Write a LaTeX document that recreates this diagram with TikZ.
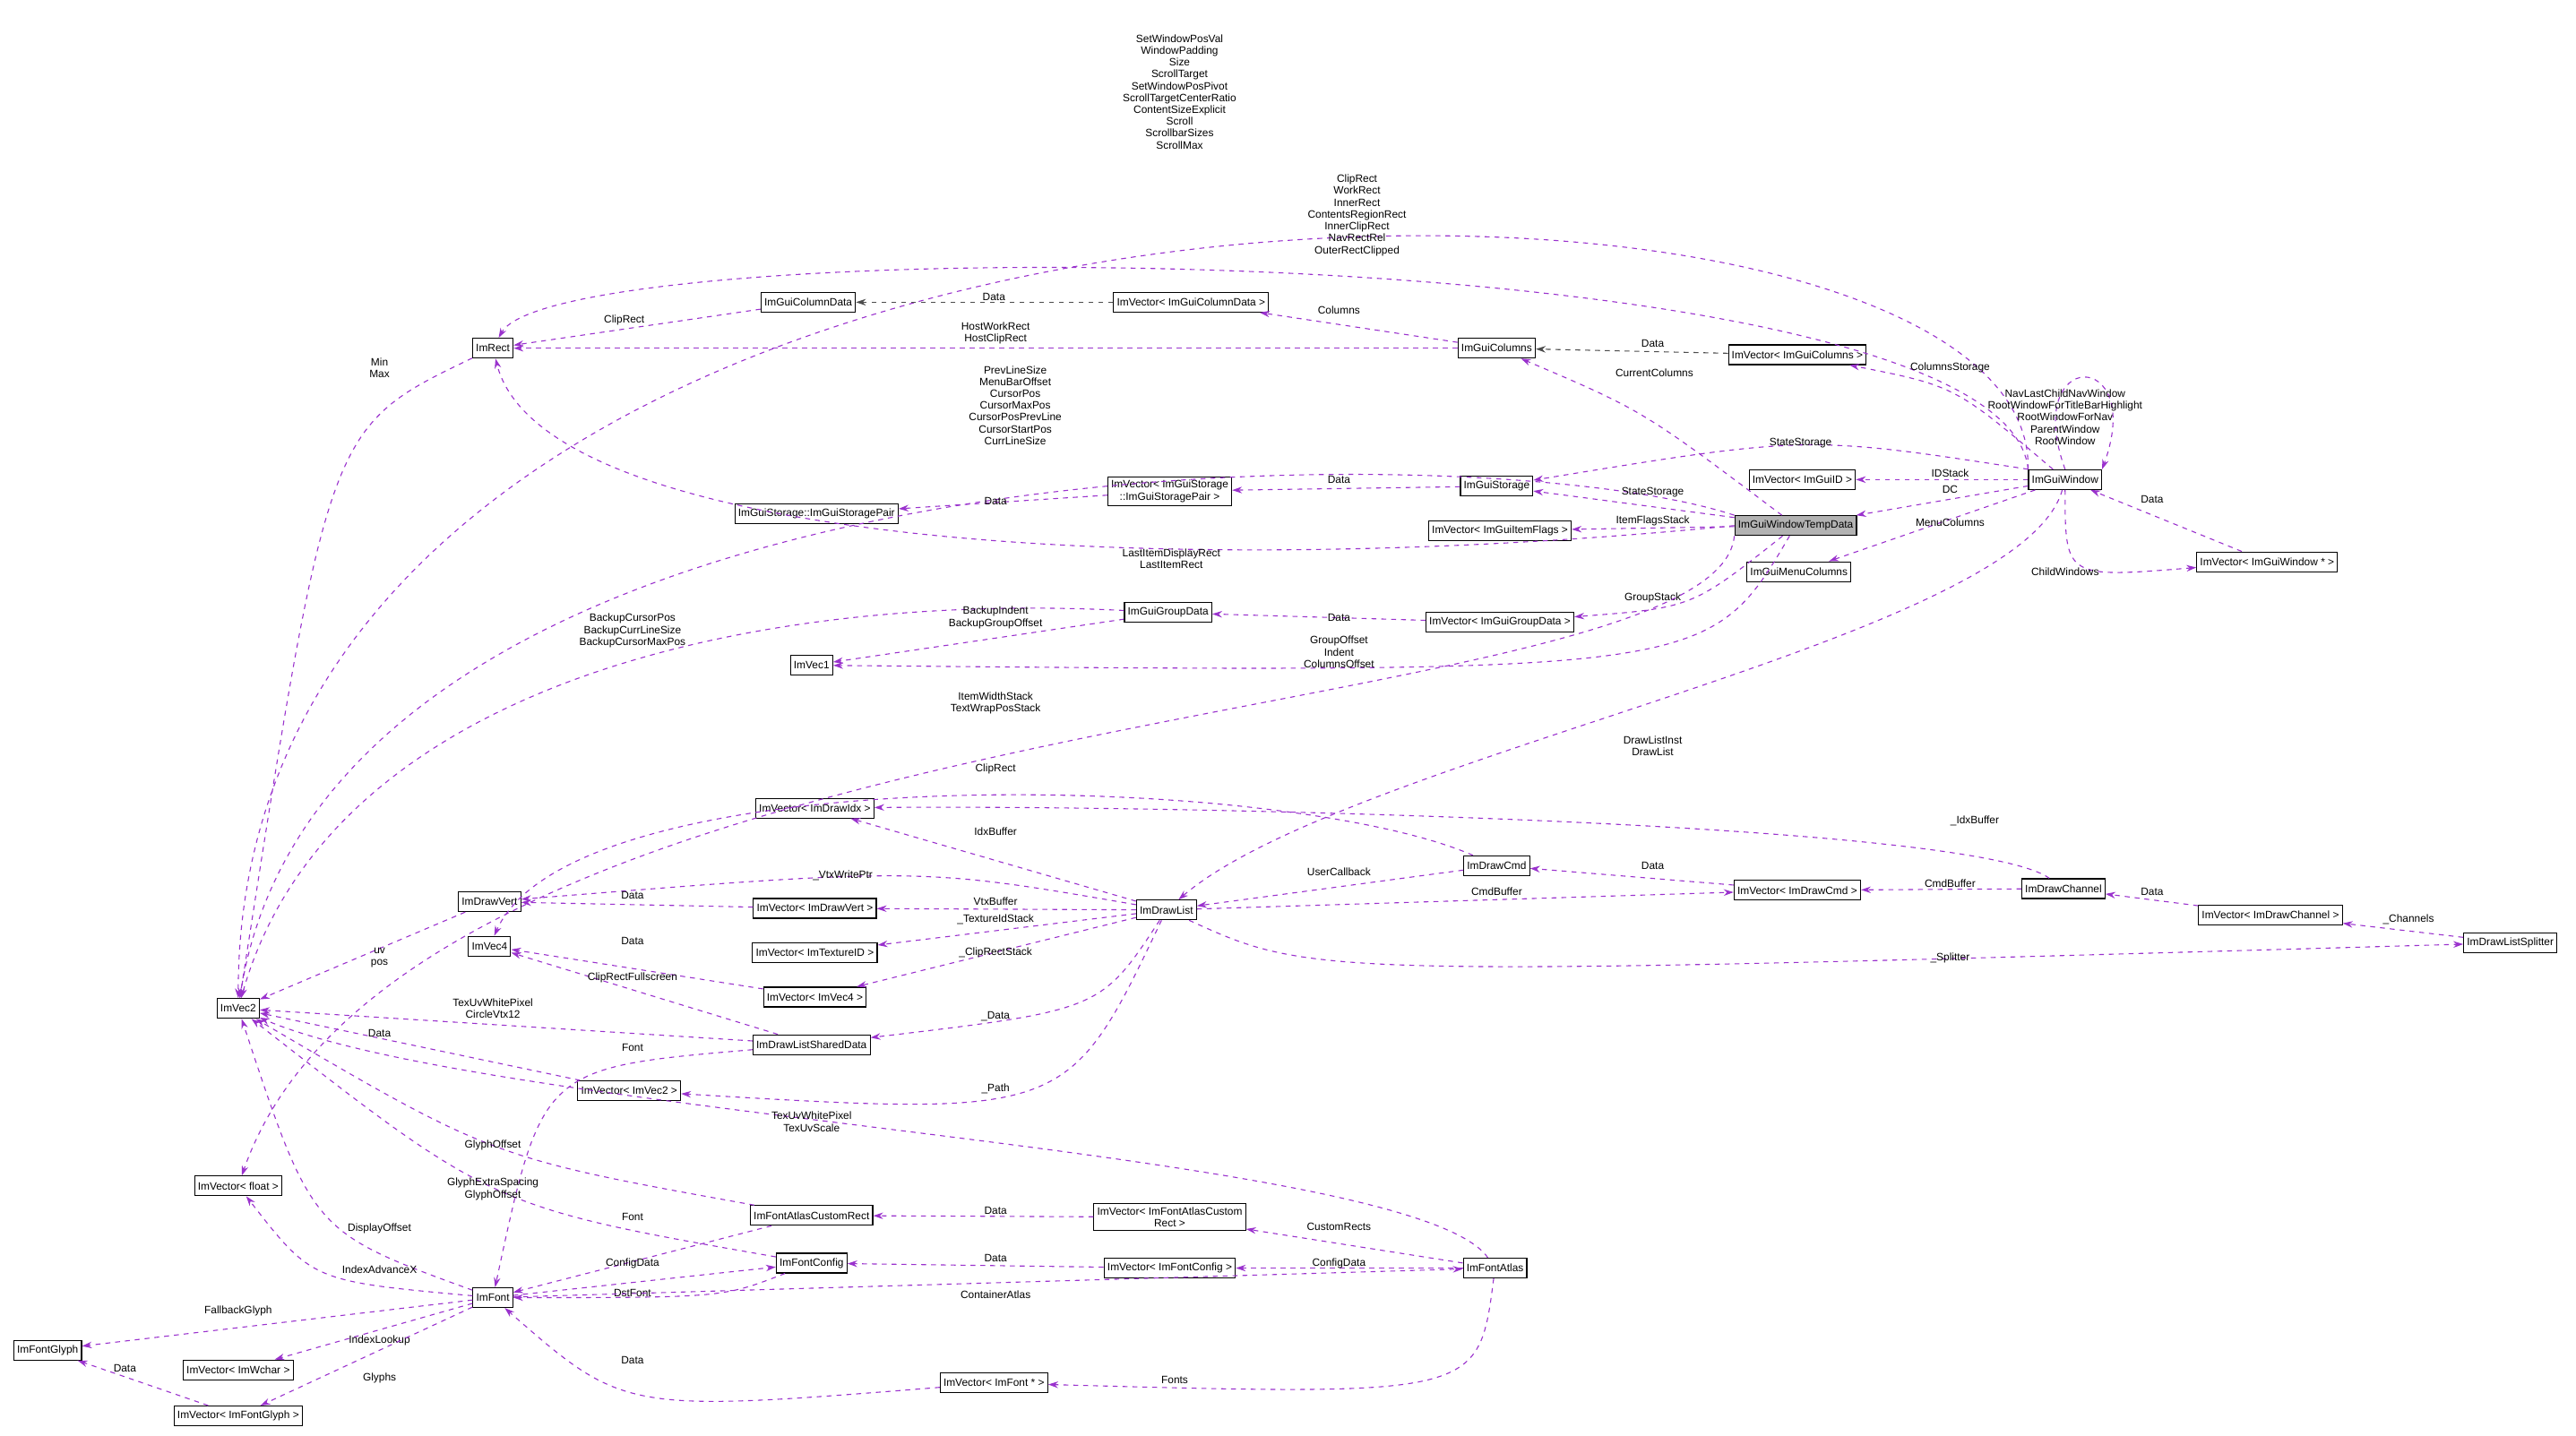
\documentclass[tikz,border=0pt]{standalone}
\usepackage{fontspec}
\setmainfont{Liberation Sans}
\usetikzlibrary{arrows.meta}
\definecolor{relc}{HTML}{9A32CD}
\tikzset{every picture/.style={line width=0.6pt}}
\tikzset{
  cls/.style={draw, fill=white, font=\fontsize{6.5}{7.5}\selectfont, inner sep=2pt, minimum height=12pt, align=center},
  rel/.style={draw=relc, dashed, -{Stealth[length=6pt,width=4pt,fill=relc]}},
  grel/.style={draw=black!70, dashed, -{Stealth[length=6pt,width=4pt,fill=black!70]}},
  lbl/.style={font=\fontsize{6.5}{7.2}\selectfont, inner sep=1pt, align=center}
}

\begin{document}
\begin{tikzpicture}[x=1pt,y=-1pt]
\useasboundingbox (0,0) rectangle (1568,874);
% classes
\node[cls, fill=black!30] (temp) at (1093,320) {ImGuiWindowTempData};
\node[cls] (win) at (1257,292) {ImGuiWindow};
\node[cls] (vwin) at (1380,342) {ImVector< ImGuiWindow * >};
\node[cls] (menu) at (1095,348) {ImGuiMenuColumns};
\node[cls] (vid) at (1097,292) {ImVector< ImGuiID >};
\node[cls] (vcols) at (1094,216) {ImVector< ImGuiColumns >};
\node[cls] (cols) at (911,212) {ImGuiColumns};
\node[cls] (vcold) at (725,184) {ImVector< ImGuiColumnData >};
\node[cls] (cold) at (492,184) {ImGuiColumnData};
\node[cls] (rect) at (300,212) {ImRect};
\node[cls] (stor) at (911,296) {ImGuiStorage};
\node[cls] (vpair) at (712,299) {ImVector< ImGuiStorage\\::ImGuiStoragePair >};
\node[cls] (pair) at (497,313) {ImGuiStorage::ImGuiStoragePair};
\node[cls] (vflags) at (913,323) {ImVector< ImGuiItemFlags >};
\node[cls] (grp) at (711,373) {ImGuiGroupData};
\node[cls] (vgrp) at (913,379) {ImVector< ImGuiGroupData >};
\node[cls] (vec1) at (494,405) {ImVec1};
\node[cls] (vec2) at (145,614) {ImVec2};
\node[cls] (vfloat) at (145,722) {ImVector< float >};
\node[cls] (dl) at (710,554) {ImDrawList};
\node[cls] (vidx) at (496,492) {ImVector< ImDrawIdx >};
\node[cls] (cmd) at (911,527) {ImDrawCmd};
\node[cls] (vcmd) at (1094,542) {ImVector< ImDrawCmd >};
\node[cls] (chan) at (1256,541) {ImDrawChannel};
\node[cls] (vchan) at (1382,557) {ImVector< ImDrawChannel >};
\node[cls] (split) at (1528,574) {ImDrawListSplitter};
\node[cls] (vert) at (298,549) {ImDrawVert};
\node[cls] (vvert) at (496,553) {ImVector< ImDrawVert >};
\node[cls] (vec4) at (298,576) {ImVec4};
\node[cls] (vtex) at (496,580) {ImVector< ImTextureID >};
\node[cls] (vvec4) at (496,607) {ImVector< ImVec4 >};
\node[cls] (shared) at (494,636) {ImDrawListSharedData};
\node[cls] (vvec2) at (383,664) {ImVector< ImVec2 >};
\node[cls] (crect) at (494,740) {ImFontAtlasCustomRect};
\node[cls] (vcrect) at (712,741) {ImVector< ImFontAtlasCustom\\Rect >};
\node[cls] (fcfg) at (494,769) {ImFontConfig};
\node[cls] (vfcfg) at (712,772) {ImVector< ImFontConfig >};
\node[cls] (atlas) at (910,772) {ImFontAtlas};
\node[cls] (font) at (300,790) {ImFont};
\node[cls] (glyph) at (29,822) {ImFontGlyph};
\node[cls] (vwchar) at (145,834) {ImVector< ImWchar >};
\node[cls] (vglyph) at (145,862) {ImVector< ImFontGlyph >};
\node[cls] (vfont) at (605,842) {ImVector< ImFont * >};

% connections
\draw[rel] (win.north west) .. controls (1240,60) and (145,60) .. (vec2);
\node[lbl, anchor=south] (l1) at (718,92) {SetWindowPosVal\\WindowPadding\\Size\\ScrollTarget\\SetWindowPosPivot\\ScrollTargetCenterRatio\\ContentSizeExplicit\\Scroll\\ScrollbarSizes\\ScrollMax};
\draw[rel] (win.north west) .. controls (1220,140) and (340,140) .. (rect);
\node[lbl, anchor=south] (l2) at (826,157) {ClipRect\\WorkRect\\InnerRect\\ContentsRegionRect\\InnerClipRect\\NavRectRel\\OuterRectClipped};
\draw[rel] (cold) -- (rect);
\node[lbl] (l3) at (380,195) {ClipRect};
\draw[grel] (vcold) -- (cold);
\node[lbl] (l4) at (605,181) {Data};
\draw[rel] (cols) -- (vcold);
\node[lbl] (l5) at (815,189) {Columns};
\draw[rel] (cols) -- (rect);
\node[lbl] (l6) at (606,203) {HostWorkRect\\HostClipRect};
\draw[grel] (vcols) -- (cols);
\node[lbl] (l7) at (1006,209) {Data};
\draw[rel] (win) .. controls (1190,235) .. (vcols);
\node[lbl] (l8) at (1187,224) {ColumnsStorage};
\draw[rel] (temp) .. controls (1000,250) .. (cols);
\node[lbl] (l9) at (1007,227) {CurrentColumns};
\draw[rel] (rect) .. controls (200,260) .. (vec2);
\node[lbl] (l10) at (231,224) {Min\\Max};
\draw[rel] (temp.north west) .. controls (900,262) and (200,262) .. (vec2);
\node[lbl, anchor=south] (l11) at (618,272) {PrevLineSize\\MenuBarOffset\\CursorPos\\CursorMaxPos\\CursorPosPrevLine\\CursorStartPos\\CurrLineSize};
\draw[rel] (win.north) to[out=110,in=70,looseness=9] (win.north east);
\node[lbl, anchor=south] (l12) at (1257,272) {NavLastChildNavWindow\\RootWindowForTitleBarHighlight\\RootWindowForNav\\ParentWindow\\RootWindow};
\draw[rel] (win.north west) .. controls (1100,265) .. (stor);
\node[lbl] (l13) at (1096,270) {StateStorage};
\draw[rel] (win) -- (vid);
\node[lbl] (l14) at (1187,288) {IDStack};
\draw[rel] (win) -- (temp);
\node[lbl] (l15) at (1187,298) {DC};
\draw[rel] (win) -- (menu);
\node[lbl] (l16) at (1187,318) {MenuColumns};
\draw[rel] (win) .. controls (1257,352) .. (vwin);
\node[lbl] (l17) at (1257,348) {ChildWindows};
\draw[rel] (vwin) -- (win);
\node[lbl] (l18) at (1310,304) {Data};
\draw[rel] (stor) -- (vpair);
\node[lbl] (l19) at (815,292) {Data};
\draw[rel] (vpair) -- (pair);
\node[lbl] (l20) at (606,305) {Data};
\draw[rel] (temp) -- (stor);
\node[lbl] (l21) at (1006,300) {StateStorage};
\draw[rel] (temp) -- (vflags);
\node[lbl] (l22) at (1006,317) {ItemFlagsStack};
\draw[rel] (temp.west) .. controls (700,355) and (330,330) .. (rect);
\node[lbl] (l23) at (713,340) {LastItemDisplayRect\\LastItemRect};
\draw[rel] (temp) .. controls (1030,370) .. (vgrp);
\node[lbl] (l24) at (1006,364) {GroupStack};
\draw[rel] (vgrp) -- (grp);
\node[lbl] (l25) at (815,376) {Data};
\draw[rel] (grp) .. controls (450,360) and (200,420) .. (vec2);
\node[lbl] (l26) at (385,384) {BackupCursorPos\\BackupCurrLineSize\\BackupCursorMaxPos};
\draw[rel] (grp) -- (vec1);
\node[lbl] (l27) at (606,376) {BackupIndent\\BackupGroupOffset};
\draw[rel] (temp) .. controls (1040,410) .. (vec1);
\node[lbl] (l28) at (815,397) {GroupOffset\\Indent\\ColumnsOffset};
\draw[rel] (temp.south west) .. controls (1045,445) and (250,420) .. (vfloat);
\node[lbl] (l29) at (606,428) {ItemWidthStack\\TextWrapPosStack};
\draw[rel] (win) .. controls (1230,390) and (820,460) .. (dl);
\node[lbl] (l30) at (1006,454) {DrawListInst\\DrawList};
\draw[rel] (cmd) .. controls (780,470) and (350,460) .. (vec4);
\node[lbl] (l31) at (606,468) {ClipRect};
\draw[rel] (dl) -- (vidx);
\node[lbl] (l32) at (606,506) {IdxBuffer};
\draw[rel] (chan) .. controls (1200,500) and (700,490) .. (vidx);
\node[lbl] (l33) at (1202,500) {\_IdxBuffer};
\draw[rel] (dl) .. controls (560,528) .. (vert);
\node[lbl] (l34) at (513,533) {\_VtxWritePtr};
\draw[rel] (vvert) -- (vert);
\node[lbl] (l35) at (385,545) {Data};
\draw[rel] (dl) -- (vvert);
\node[lbl] (l36) at (606,549) {VtxBuffer};
\draw[rel] (cmd) -- (dl);
\node[lbl] (l37) at (815,531) {UserCallback};
\draw[rel] (vcmd) -- (cmd);
\node[lbl] (l38) at (1006,527) {Data};
\draw[rel] (dl) -- (vcmd);
\node[lbl] (l39) at (911,543) {CmdBuffer};
\draw[rel] (chan) -- (vcmd);
\node[lbl] (l40) at (1187,538) {CmdBuffer};
\draw[rel] (vchan) -- (chan);
\node[lbl] (l41) at (1310,543) {Data};
\draw[rel] (split) -- (vchan);
\node[lbl] (l42) at (1466,560) {\_Channels};
\draw[rel] (dl) .. controls (800,595) .. (split);
\node[lbl] (l43) at (1187,583) {\_Splitter};
\draw[rel] (dl) -- (vtex);
\node[lbl] (l44) at (606,560) {\_TextureIdStack};
\draw[rel] (dl) -- (vvec4);
\node[lbl] (l45) at (606,580) {\_ClipRectStack};
\draw[rel] (vvec4) -- (vec4);
\node[lbl] (l46) at (385,573) {Data};
\draw[rel] (dl) .. controls (670,615) .. (shared);
\node[lbl] (l47) at (606,619) {\_Data};
\draw[rel] (dl) .. controls (650,680) .. (vvec2);
\node[lbl] (l48) at (606,663) {\_Path};
\draw[rel] (shared) -- (vec4);
\node[lbl] (l49) at (385,595) {ClipRectFullscreen};
\draw[rel] (shared) -- (vec2);
\node[lbl] (l50) at (300,614) {TexUvWhitePixel\\CircleVtx12};
\draw[rel] (vvec2) -- (vec2);
\node[lbl] (l51) at (231,629) {Data};
\draw[rel] (shared) .. controls (330,650) .. (font);
\node[lbl] (l52) at (385,638) {Font};
\draw[rel] (vert) -- (vec2);
\node[lbl] (l53) at (231,583) {uv\\pos};
\draw[rel] (atlas) .. controls (860,700) and (300,680) .. (vec2);
\node[lbl] (l54) at (494,683) {TexUvWhitePixel\\TexUvScale};
\draw[rel] (crect) .. controls (300,705) .. (vec2);
\node[lbl] (l55) at (300,697) {GlyphOffset};
\draw[rel] (fcfg) .. controls (300,735) .. (vec2);
\node[lbl] (l56) at (300,724) {GlyphExtraSpacing\\GlyphOffset};
\draw[rel] (font) .. controls (190,750) .. (vec2);
\node[lbl] (l57) at (231,748) {DisplayOffset};
\draw[rel] (font) .. controls (190,780) .. (vfloat);
\node[lbl] (l58) at (231,773) {IndexAdvanceX};
\draw[rel] (crect) -- (font);
\node[lbl] (l59) at (385,741) {Font};
\draw[rel] (vcrect) -- (crect);
\node[lbl] (l60) at (606,737) {Data};
\draw[rel] (atlas) -- (vcrect);
\node[lbl] (l61) at (815,747) {CustomRects};
\draw[rel] (font) -- (fcfg);
\node[lbl] (l62) at (385,769) {ConfigData};
\draw[rel] (vfcfg) -- (fcfg);
\node[lbl] (l63) at (606,766) {Data};
\draw[rel] (atlas) -- (vfcfg);
\node[lbl] (l64) at (815,769) {ConfigData};
\draw[rel] (fcfg) .. controls (440,790) .. (font);
\node[lbl] (l65) at (385,787) {DstFont};
\draw[rel] (font) -- (atlas);
\node[lbl] (l66) at (606,788) {ContainerAtlas};
\draw[rel] (font) -- (glyph);
\node[lbl] (l67) at (145,798) {FallbackGlyph};
\draw[rel] (font) -- (vwchar);
\node[lbl] (l68) at (231,816) {IndexLookup};
\draw[rel] (font) -- (vglyph);
\node[lbl] (l69) at (231,839) {Glyphs};
\draw[rel] (vglyph) -- (glyph);
\node[lbl] (l70) at (76,833) {Data};
\draw[rel] (vfont) .. controls (380,860) .. (font);
\node[lbl] (l71) at (385,828) {Data};
\draw[rel] (atlas) .. controls (900,850) .. (vfont);
\node[lbl] (l72) at (715,840) {Fonts};

\end{tikzpicture}
\end{document}
